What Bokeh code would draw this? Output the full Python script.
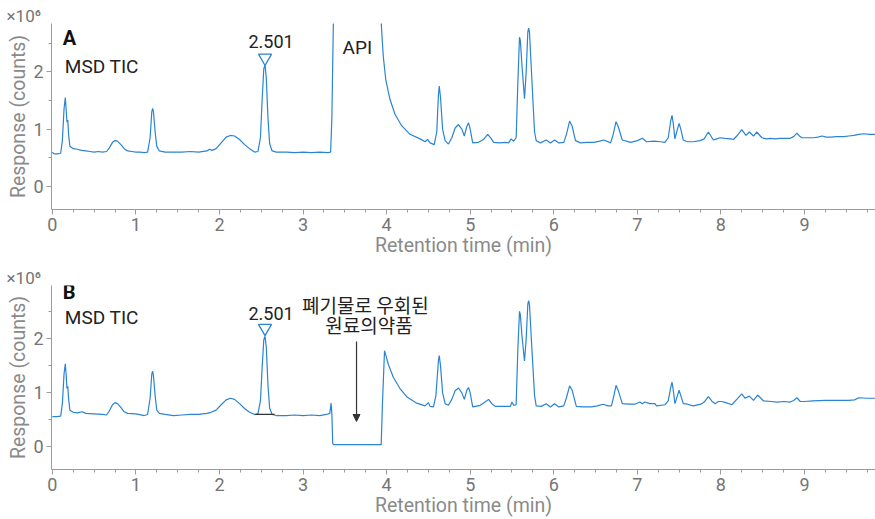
from bokeh.plotting import figure
from bokeh.layouts import column
from bokeh.models import Label, SingleIntervalTicker, Arrow, NormalHead, Range1d, Title
from bokeh.embed import file_html
from bokeh.resources import INLINE

# ---------------- data (retention time in min, response in 1e6 counts) ----------------
rt_a = [0.00, 0.02, 0.06, 0.10, 0.12, 0.14, 0.155, 0.165, 0.175, 0.185, 0.195, 0.21, 0.25, 0.30,
        0.35, 0.40, 0.45, 0.50, 0.55, 0.60, 0.65, 0.68, 0.72, 0.75, 0.78, 0.82, 0.86, 0.90, 0.95,
        1.00, 1.05, 1.10, 1.14, 1.17, 1.19, 1.20, 1.21, 1.23, 1.25, 1.28, 1.35, 1.45, 1.55, 1.65,
        1.75, 1.85, 1.88, 1.91, 1.96, 2.02, 2.08, 2.13, 2.18, 2.24, 2.30, 2.36, 2.42, 2.46, 2.49,
        2.51, 2.53, 2.545, 2.56, 2.58, 2.60, 2.63, 2.68, 2.80, 2.90, 3.00, 3.10, 3.20, 3.30, 3.33,
        3.345, 3.36, 3.37, 3.38, 3.90, 3.925, 3.94, 3.96, 3.99, 4.04, 4.10, 4.18, 4.28, 4.40, 4.46,
        4.49, 4.52, 4.57, 4.60, 4.62, 4.63, 4.645, 4.67, 4.70, 4.74, 4.78, 4.82, 4.86, 4.90, 4.93,
        4.96, 4.98, 5.00, 5.03, 5.10, 5.16, 5.21, 5.25, 5.28, 5.35, 5.42, 5.46, 5.49, 5.52, 5.55,
        5.57, 5.59, 5.60, 5.62, 5.65, 5.67, 5.69, 5.70, 5.71, 5.73, 5.75, 5.77, 5.79, 5.84, 5.91,
        5.96, 6.01, 6.06, 6.12, 6.15, 6.19, 6.22, 6.26, 6.32, 6.40, 6.48, 6.55, 6.60, 6.68, 6.71,
        6.745, 6.77, 6.82, 6.92, 7.00, 7.06, 7.11, 7.20, 7.28, 7.33, 7.37, 7.40, 7.415, 7.43, 7.45,
        7.48, 7.50, 7.52, 7.55, 7.60, 7.67, 7.75, 7.80, 7.85, 7.88, 7.91, 7.95, 7.99, 8.05, 8.12,
        8.15, 8.19, 8.25, 8.30, 8.34, 8.39, 8.43, 8.49, 8.55, 8.59, 8.65, 8.71, 8.77, 8.83, 8.87,
        8.91, 8.94, 8.97, 9.05, 9.11, 9.16, 9.21, 9.26, 9.32, 9.38, 9.47, 9.53, 9.59, 9.65, 9.71,
        9.78, 9.85]
resp_a = [0.60, 0.57, 0.57, 0.58, 0.80, 1.35, 1.55, 1.35, 1.12, 1.16, 0.90, 0.70, 0.66, 0.65,
          0.63, 0.62, 0.61, 0.60, 0.61, 0.60, 0.61, 0.67, 0.77, 0.80, 0.79, 0.73, 0.66, 0.62, 0.61,
          0.60, 0.60, 0.59, 0.60, 0.85, 1.30, 1.36, 1.30, 0.95, 0.70, 0.62, 0.60, 0.60, 0.60, 0.61,
          0.60, 0.62, 0.65, 0.63, 0.66, 0.76, 0.86, 0.89, 0.88, 0.82, 0.73, 0.66, 0.60, 0.61, 0.85,
          1.50, 2.05, 2.12, 1.90, 1.20, 0.75, 0.62, 0.60, 0.60, 0.59, 0.60, 0.59, 0.60, 0.59, 0.60,
          1.20, 2.60, 3.50, 6.00, 6.00, 3.20, 2.73, 2.27, 1.86, 1.52, 1.26, 1.06, 0.91, 0.83, 0.78,
          0.82, 0.76, 0.73, 0.95, 1.60, 1.75, 1.55, 1.00, 0.80, 0.74, 0.85, 1.02, 1.08, 1.00, 0.88,
          1.05, 1.11, 1.00, 0.76, 0.77, 0.82, 0.91, 0.84, 0.77, 0.76, 0.77, 0.76, 0.83, 0.79, 0.85,
          1.80, 2.60, 2.55, 2.10, 1.53, 2.00, 2.70, 2.76, 2.68, 2.10, 1.52, 0.95, 0.80, 0.76, 0.81,
          0.76, 0.81, 0.76, 0.77, 0.90, 1.14, 1.05, 0.80, 0.76, 0.77, 0.77, 0.79, 0.81, 0.76, 0.90,
          1.13, 1.05, 0.81, 0.77, 0.80, 0.84, 0.78, 0.79, 0.78, 0.77, 0.85, 1.15, 1.24, 1.10, 0.83,
          1.00, 1.10, 1.00, 0.81, 0.78, 0.78, 0.80, 0.83, 0.95, 0.88, 0.81, 0.83, 0.85, 0.84, 0.83,
          0.82, 0.88, 0.99, 0.89, 0.95, 0.88, 0.95, 0.85, 0.83, 0.84, 0.83, 0.84, 0.84, 0.84, 0.87,
          0.93, 0.88, 0.85, 0.85, 0.85, 0.86, 0.88, 0.86, 0.86, 0.87, 0.87, 0.88, 0.89, 0.91, 0.92,
          0.91, 0.91]

rt_b = [0.00, 0.05, 0.10, 0.12, 0.14, 0.155, 0.165, 0.175, 0.185, 0.195, 0.21, 0.25, 0.30, 0.36,
        0.40, 0.50, 0.60, 0.65, 0.68, 0.72, 0.75, 0.78, 0.82, 0.86, 0.90, 1.00, 1.10, 1.14, 1.17,
        1.19, 1.20, 1.21, 1.23, 1.25, 1.28, 1.35, 1.45, 1.55, 1.65, 1.75, 1.85, 1.90, 1.96, 2.02,
        2.08, 2.13, 2.18, 2.24, 2.30, 2.36, 2.42, 2.46, 2.49, 2.51, 2.53, 2.545, 2.56, 2.58, 2.60,
        2.63, 2.68, 2.80, 2.90, 3.00, 3.10, 3.20, 3.28, 3.32, 3.335, 3.345, 3.355, 3.37, 3.60, 3.80,
        3.935, 3.95, 3.975, 3.99, 4.02, 4.08, 4.16, 4.24, 4.36, 4.46, 4.50, 4.52, 4.56, 4.59, 4.62,
        4.63, 4.645, 4.67, 4.70, 4.74, 4.78, 4.82, 4.86, 4.90, 4.93, 4.96, 4.98, 5.00, 5.03, 5.12,
        5.17, 5.22, 5.26, 5.30, 5.40, 5.48, 5.50, 5.52, 5.55, 5.57, 5.59, 5.60, 5.62, 5.65, 5.67,
        5.69, 5.70, 5.71, 5.73, 5.75, 5.77, 5.79, 5.85, 5.91, 5.96, 6.01, 6.06, 6.12, 6.15, 6.19,
        6.22, 6.27, 6.35, 6.45, 6.52, 6.59, 6.65, 6.69, 6.72, 6.745, 6.77, 6.82, 6.90, 6.97, 7.03,
        7.06, 7.09, 7.15, 7.21, 7.23, 7.33, 7.37, 7.40, 7.415, 7.43, 7.45, 7.48, 7.50, 7.52, 7.55,
        7.60, 7.67, 7.76, 7.80, 7.85, 7.89, 7.93, 7.97, 8.01, 8.06, 8.13, 8.19, 8.25, 8.29, 8.34,
        8.39, 8.44, 8.51, 8.60, 8.67, 8.75, 8.83, 8.87, 8.91, 8.95, 9.00, 9.10, 9.25, 9.38, 9.53,
        9.60, 9.65, 9.75, 9.85]
resp_b = [0.56, 0.56, 0.57, 0.80, 1.35, 1.54, 1.35, 1.08, 1.12, 0.88, 0.68, 0.64, 0.63, 0.65,
          0.62, 0.61, 0.60, 0.59, 0.66, 0.78, 0.82, 0.80, 0.73, 0.65, 0.62, 0.61, 0.58, 0.60, 0.90,
          1.35, 1.40, 1.32, 0.95, 0.68, 0.62, 0.60, 0.58, 0.59, 0.60, 0.60, 0.62, 0.64, 0.68, 0.78,
          0.87, 0.90, 0.88, 0.80, 0.71, 0.64, 0.60, 0.61, 0.85, 1.45, 1.98, 2.05, 1.85, 1.15, 0.72,
          0.60, 0.58, 0.58, 0.59, 0.58, 0.59, 0.58, 0.60, 0.62, 0.81, 0.62, 0.06, 0.04, 0.04, 0.04,
          0.04, 0.80, 1.78, 1.70, 1.53, 1.29, 1.08, 0.93, 0.81, 0.76, 0.82, 0.75, 0.74, 0.95, 1.60,
          1.69, 1.50, 1.00, 0.80, 0.77, 0.88, 1.04, 1.09, 1.00, 0.88, 1.05, 1.10, 1.00, 0.74, 0.77,
          0.82, 0.88, 0.80, 0.75, 0.75, 0.75, 0.83, 0.77, 0.78, 1.80, 2.51, 2.45, 2.05, 1.59, 2.00,
          2.65, 2.71, 2.62, 2.05, 1.50, 0.95, 0.76, 0.75, 0.80, 0.74, 0.80, 0.74, 0.76, 0.90, 1.13,
          1.05, 0.75, 0.74, 0.74, 0.76, 0.79, 0.76, 0.76, 0.95, 1.14, 1.05, 0.80, 0.79, 0.79, 0.83,
          0.80, 0.83, 0.80, 0.80, 0.76, 0.78, 0.85, 1.10, 1.20, 1.05, 0.80, 0.95, 1.05, 0.95, 0.80,
          0.79, 0.76, 0.79, 0.83, 0.93, 0.85, 0.80, 0.84, 0.84, 0.82, 0.78, 0.88, 0.98, 0.90, 0.94,
          0.86, 0.96, 0.85, 0.84, 0.83, 0.84, 0.83, 0.86, 0.91, 0.84, 0.84, 0.85, 0.86, 0.86, 0.86,
          0.87, 0.91, 0.90, 0.90]

# marked peak (apex marker position as drawn) and integration baseline in B
peak_label = "2.501"
peak_rt = [2.545]
peak_mark_a = [2.24]
peak_mark_b = [2.20]
base_rt_b = [2.43, 2.66]
base_resp_b = [0.60, 0.60]

x_title = "Retention time (min)"
y_title = "Response (counts)"
scale_title = "×10⁶"

BLUE = "#2a84d2"
AXIS = "#9c9c9c"
TICKTXT = "#747474"
TITLE = "#8a8a8a"
DARK = "#222222"
FONT = "Roboto"


def scale_label():
    kw = dict(text=scale_title, align="left", offset=-45, text_font=FONT,
              text_font_size="17px", text_font_style="normal", text_color=TICKTXT)
    try:
        return Title(standoff=-4, **kw)
    except Exception:
        return Title(standoff=0, **kw)


def make_fig(height, border_top, y_lo, y_hi):
    p = figure(width=875, height=height, output_backend="svg", toolbar_location=None,
               x_range=Range1d(-0.01, 9.85), y_range=Range1d(y_lo, y_hi),
               min_border_left=51, min_border_right=0, min_border_top=border_top,
               min_border_bottom=10)
    p.outline_line_color = None
    p.xgrid.visible = False
    p.ygrid.visible = False
    p.background_fill_color = "white"
    p.border_fill_color = "white"
    p.xaxis.ticker = SingleIntervalTicker(interval=1, num_minor_ticks=4)
    p.yaxis.ticker = SingleIntervalTicker(interval=1, num_minor_ticks=2)
    for ax in (p.xaxis[0], p.yaxis[0]):
        ax.axis_line_color = AXIS
        ax.major_tick_line_color = AXIS
        ax.minor_tick_line_color = AXIS
        ax.major_tick_in = 0
        ax.major_tick_out = 5
        ax.minor_tick_in = 0
        ax.minor_tick_out = 3
        ax.major_label_text_font = FONT
        ax.major_label_text_font_size = "18px"
        ax.major_label_text_color = TICKTXT
        ax.axis_label_text_font = FONT
        ax.axis_label_text_font_size = "19.5px"
        ax.axis_label_text_font_style = "normal"
        ax.axis_label_text_color = TITLE
        ax.major_label_standoff = 3
        ax.axis_label_standoff = 0
    p.xaxis.axis_label = x_title
    p.yaxis.axis_label = y_title
    p.add_layout(scale_label(), "above")
    return p


def add_text(p, x, y, text, size="19px", color=DARK, style="normal", align="left",
             font=FONT, baseline="middle"):
    p.add_layout(Label(x=x, y=y, text=text, text_font=font, text_font_size=size,
                       text_color=color, text_font_style=style, text_align=align,
                       text_baseline=baseline))


# ---------------- panel A ----------------
p1 = make_fig(259, 23, -0.40, 2.84)
p1.line(rt_a, resp_a, line_color=BLUE, line_width=1.2)
p1.scatter(peak_rt, peak_mark_a, marker="inverted_triangle", size=13, fill_color="white",
           line_color=BLUE, line_width=1.3)
add_text(p1, 0.126, 2.59, "A", size="20px", style="bold", color="#111111")
add_text(p1, 0.15, 2.09, "MSD TIC")
add_text(p1, 2.617, 2.52, peak_label, size="18px", align="center")
add_text(p1, 3.65, 2.43, "API", align="center")

# ---------------- panel B ----------------
p2 = make_fig(260, 26, -0.42, 2.99)
p2.line(rt_b, resp_b, line_color=BLUE, line_width=1.2)
p2.line(base_rt_b, base_resp_b, line_color="#333333", line_width=1.2)
p2.scatter(peak_rt, peak_mark_b, marker="inverted_triangle", size=13, fill_color="white",
           line_color=BLUE, line_width=1.3)
add_text(p2, 0.126, 2.87, "B", size="20px", style="bold", color="#111111")
add_text(p2, 0.15, 2.40, "MSD TIC")
add_text(p2, 2.617, 2.47, peak_label, size="18px", align="center")
add_text(p2, 3.745, 2.63, "폐기물로 우회된", align="center", font="Noto Sans CJK KR")
add_text(p2, 3.79, 2.27, "원료의약품", align="center", font="Noto Sans CJK KR")
p2.add_layout(Arrow(end=NormalHead(size=7, fill_color="#333333", line_color="#333333"),
                    x_start=3.64, y_start=1.95, x_end=3.64, y_end=0.47,
                    line_color="#333333", line_width=1.2))

layout = column(p1, p2)
open("out.html", "w").write(file_html(layout, INLINE))
